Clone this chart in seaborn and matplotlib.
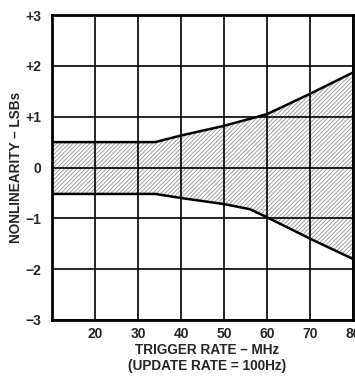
import matplotlib
matplotlib.use("Agg")
import matplotlib.pyplot as plt
import seaborn as sns
import pandas as pd
import numpy as np

# Data
rate_upper = [10, 34, 40, 50, 60, 70, 80]
nl_upper = [0.5, 0.5, 0.63, 0.82, 1.05, 1.45, 1.87]
rate_lower = [10, 34, 40, 50, 56, 60, 70, 80]
nl_lower = [-0.52, -0.52, -0.60, -0.72, -0.82, -0.98, -1.40, -1.80]
x_ticks = [20, 30, 40, 50, 60, 70, 80]
x_tick_labels = ["20", "30", "40", "50", "60", "70", "80"]
y_ticks = [-3, -2, -1, 0, 1, 2, 3]
y_tick_labels = ["\u22123", "\u22122", "\u22121", "0", "+1", "+2", "+3"]

sns.set_theme(style="white")
plt.rcParams['font.family'] = ['Liberation Sans', 'DejaVu Sans']
plt.rcParams['hatch.color'] = '#a0a0a0'
plt.rcParams['hatch.linewidth'] = 0.7

fig = plt.figure(figsize=(3.55, 3.76), dpi=100)
ax = fig.add_axes([0.1465, 0.149, 0.848, 0.811])

grid_x = np.union1d(rate_upper, rate_lower)
up = np.interp(grid_x, rate_upper, nl_upper)
lo = np.interp(grid_x, rate_lower, nl_lower)
ax.fill_between(grid_x, lo, up, facecolor='white', edgecolor='#a0a0a0',
                hatch='////////', linewidth=0, zorder=1)

df_u = pd.DataFrame({"rate": rate_upper, "nl": nl_upper})
df_l = pd.DataFrame({"rate": rate_lower, "nl": nl_lower})
sns.lineplot(data=df_u, x="rate", y="nl", ax=ax, color='black', linewidth=1.8, zorder=3)
sns.lineplot(data=df_l, x="rate", y="nl", ax=ax, color='black', linewidth=1.8, zorder=3)

ax.set_xlim(10, 80)
ax.set_ylim(-3, 3)
ax.set_xticks(x_ticks)
ax.set_xticklabels(x_tick_labels)
ax.set_yticks(y_ticks)
ax.set_yticklabels(y_tick_labels)
ax.tick_params(length=0, labelsize=10, pad=5)
ax.tick_params(axis='y', pad=8)
for lab in ax.get_xticklabels() + ax.get_yticklabels():
    lab.set_fontweight('bold')
ax.grid(True, color='black', linewidth=1.2, zorder=2)
ax.set_axisbelow(False)
for s in ax.spines.values():
    s.set_color('black')
    s.set_linewidth(2)

ax.set_xlabel("TRIGGER RATE \u2013 MHz\n(UPDATE RATE = 100Hz)", fontsize=9.8,
              fontweight='bold', linespacing=1.2)
ax.xaxis.set_label_coords(0.515, -0.076)
ax.set_ylabel("NONLINEARITY \u2013 LSBs", fontsize=9.8, fontweight='bold')
ax.yaxis.set_label_coords(-0.096, 0.5)

fig.savefig("out.png", dpi=100)
